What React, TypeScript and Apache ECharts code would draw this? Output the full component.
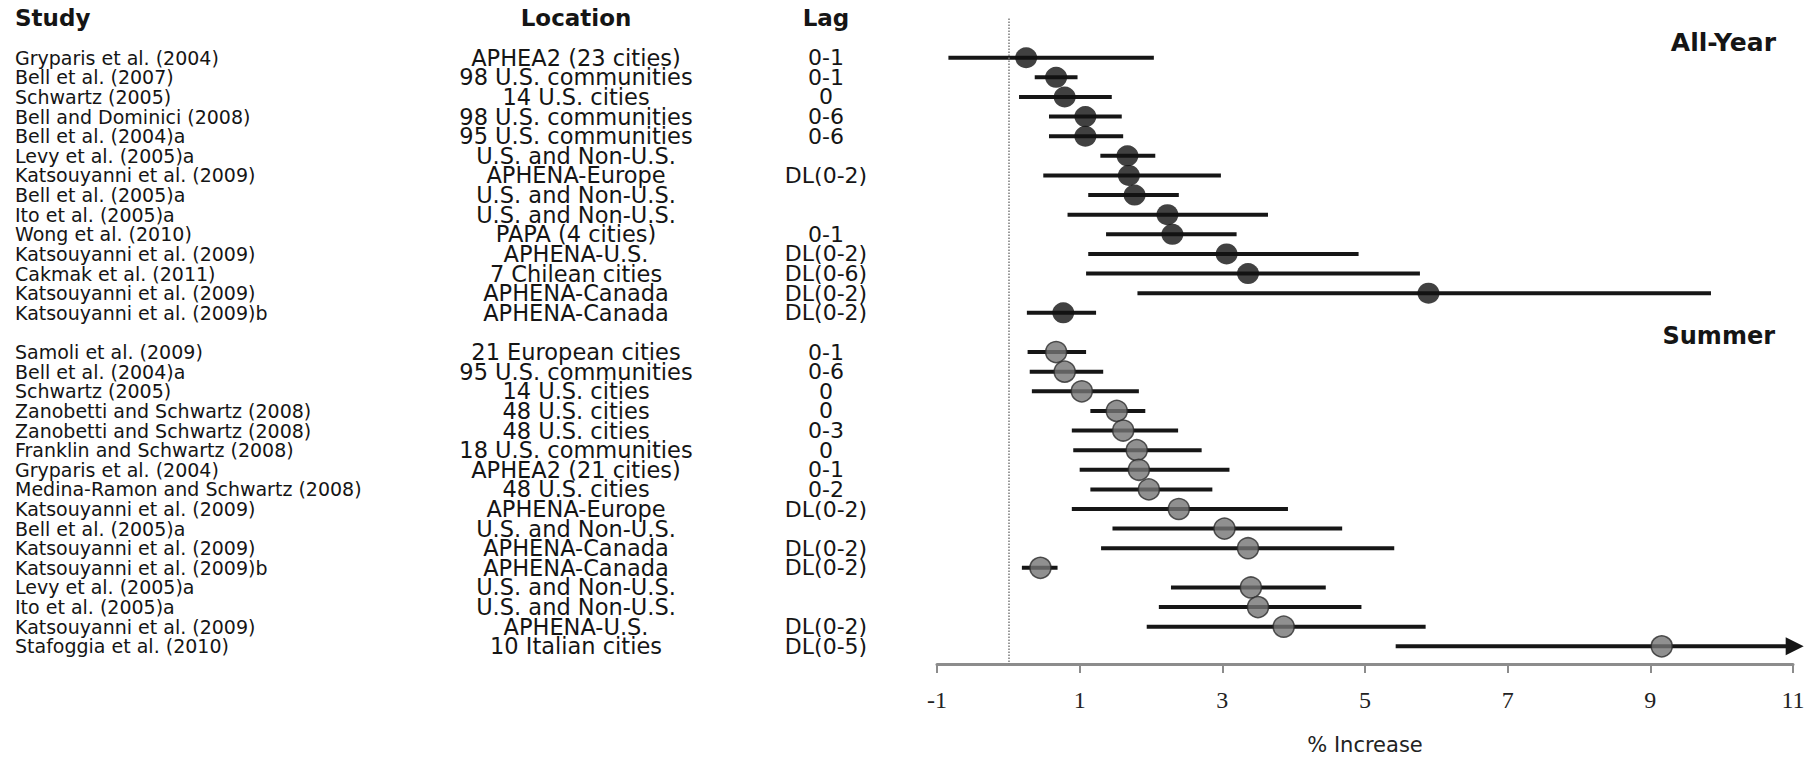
import React, { useEffect, useRef } from "react";
import * as echarts from "echarts";

// ---- All-Year studies ----
const allYearStudy = [
  "Gryparis et al. (2004)",
  "Bell et al. (2007)",
  "Schwartz (2005)",
  "Bell and Dominici (2008)",
  "Bell et al. (2004)a",
  "Levy et al. (2005)a",
  "Katsouyanni et al. (2009)",
  "Bell et al. (2005)a",
  "Ito et al. (2005)a",
  "Wong et al. (2010)",
  "Katsouyanni et al. (2009)",
  "Cakmak et al. (2011)",
  "Katsouyanni et al. (2009)",
  "Katsouyanni et al. (2009)b",
];
const allYearLocation = [
  "APHEA2 (23 cities)",
  "98 U.S. communities",
  "14 U.S. cities",
  "98 U.S. communities",
  "95 U.S. communities",
  "U.S. and Non-U.S.",
  "APHENA-Europe",
  "U.S. and Non-U.S.",
  "U.S. and Non-U.S.",
  "PAPA (4 cities)",
  "APHENA-U.S.",
  "7 Chilean cities",
  "APHENA-Canada",
  "APHENA-Canada",
];
const allYearLag = ["0-1", "0-1", "0", "0-6", "0-6", "", "DL(0-2)", "", "", "0-1", "DL(0-2)", "DL(0-6)", "DL(0-2)", "DL(0-2)"];
const allYearEst = [0.25, 0.67, 0.79, 1.08, 1.08, 1.67, 1.69, 1.77, 2.23, 2.3, 3.06, 3.36, 5.89, 0.77];
const allYearLow = [-0.84, 0.37, 0.15, 0.57, 0.57, 1.29, 0.49, 1.12, 0.83, 1.37, 1.12, 1.09, 1.81, 0.26];
const allYearHigh = [2.04, 0.97, 1.45, 1.59, 1.61, 2.06, 2.98, 2.39, 3.64, 3.2, 4.91, 5.77, 9.85, 1.23];

// ---- Summer studies ----
const summerStudy = [
  "Samoli et al. (2009)",
  "Bell et al. (2004)a",
  "Schwartz (2005)",
  "Zanobetti and Schwartz (2008)",
  "Zanobetti and Schwartz (2008)",
  "Franklin and Schwartz (2008)",
  "Gryparis et al. (2004)",
  "Medina-Ramon and Schwartz (2008)",
  "Katsouyanni et al. (2009)",
  "Bell et al. (2005)a",
  "Katsouyanni et al. (2009)",
  "Katsouyanni et al. (2009)b",
  "Levy et al. (2005)a",
  "Ito et al. (2005)a",
  "Katsouyanni et al. (2009)",
  "Stafoggia et al. (2010)",
];
const summerLocation = [
  "21 European cities",
  "95 U.S. communities",
  "14 U.S. cities",
  "48 U.S. cities",
  "48 U.S. cities",
  "18 U.S. communities",
  "APHEA2 (21 cities)",
  "48 U.S. cities",
  "APHENA-Europe",
  "U.S. and Non-U.S.",
  "APHENA-Canada",
  "APHENA-Canada",
  "U.S. and Non-U.S.",
  "U.S. and Non-U.S.",
  "APHENA-U.S.",
  "10 Italian cities",
];
const summerLag = ["0-1", "0-6", "0", "0", "0-3", "0", "0-1", "0-2", "DL(0-2)", "", "DL(0-2)", "DL(0-2)", "", "", "DL(0-2)", "DL(0-5)"];
const summerEst = [0.67, 0.79, 1.03, 1.52, 1.61, 1.8, 1.83, 1.97, 2.39, 3.03, 3.36, 0.45, 3.4, 3.5, 3.86, 9.16];
const summerLow = [0.27, 0.3, 0.33, 1.15, 0.89, 0.91, 1.0, 1.15, 0.89, 1.46, 1.3, 0.19, 2.28, 2.11, 1.94, 5.43];
// last value: interval truncated by the axis (drawn as an arrow)
const summerHigh = [1.09, 1.33, 1.83, 1.92, 2.38, 2.71, 3.1, 2.86, 3.92, 4.68, 5.41, 0.69, 4.45, 4.95, 5.85, 11.15];

const xTickValues = [-1, 1, 3, 5, 7, 9, 11];
const X_MIN = -1;
const X_MAX = 11;
const headers = { study: "Study", location: "Location", lag: "Lag" };
const panelTitles = ["All-Year", "Summer"];
const xAxisTitle = "% Increase";

export default function App() {
  const ref = useRef<HTMLDivElement>(null);

  useEffect(() => {
    if (!ref.current) return;
    const chart = echarts.init(ref.current, undefined, { renderer: "svg" });

    const nA = allYearStudy.length;
    const rowsA = allYearStudy.map((_, i) => i);
    const rowsS = summerStudy.map((_, i) => nA + 1 + i);
    const allRows = [...rowsA, ...rowsS];
    const studyMap: Record<number, string> = {};
    const locMap: Record<number, string> = {};
    const lagMap: Record<number, string> = {};
    rowsA.forEach((r, i) => {
      studyMap[r] = allYearStudy[i];
      locMap[r] = allYearLocation[i];
      lagMap[r] = allYearLag[i];
    });
    rowsS.forEach((r, i) => {
      studyMap[r] = summerStudy[i];
      locMap[r] = summerLocation[i];
      lagMap[r] = summerLag[i];
    });
    // split rows in two alternating sets so neighbouring labels never sit on the same axis
    const rowSets = [allRows.filter((_, k) => k % 2 === 0), allRows.filter((_, k) => k % 2 === 1)];

    const gridLeft = 937;
    const gridRight = 23;
    const textFont = "DejaVu Sans";
    const textColor = "#151515";
    const studyLeft = 15;
    const locCenter = 576;
    const lagCenter = 826;

    const yBase = {
      type: "value" as const,
      min: -2,
      max: 30.9,
      inverse: true,
      gridIndex: 0,
      position: "left" as const,
      offset: 0,
      axisLine: { show: false, onZero: false },
      axisTick: { show: false },
      splitLine: { show: false },
    };

    const columns = [
      { map: studyMap, align: "left", margin: gridLeft - studyLeft, fontSize: 19 },
      { map: locMap, align: "center", margin: gridLeft - locCenter, fontSize: 22.5 },
      { map: lagMap, align: "center", margin: gridLeft - lagCenter, fontSize: 22 },
    ];
    const yAxes: any[] = [{ ...yBase, axisLabel: { show: false } }];
    columns.forEach((c) => {
      rowSets.forEach((set) => {
        yAxes.push({
          ...yBase,
          axisLabel: {
            customValues: set,
            showMinLabel: true,
            showMaxLabel: true,
            hideOverlap: false,
            fontFamily: textFont,
            fontSize: c.fontSize,
            color: textColor,
            lineHeight: 19,
            align: c.align,
            margin: c.margin,
            formatter: (v: number) => c.map[v] ?? "",
          },
        });
      });
    });

    const ciData = [
      ...rowsA.map((r, i) => [r, allYearLow[i], allYearHigh[i]]),
      ...rowsS.map((r, i) => [r, summerLow[i], summerHigh[i]]),
    ];

    const headStyle = { fontFamily: textFont, fontSize: 23, fontWeight: "bold", fill: "#151515", verticalAlign: "middle" };

    const option: any = {
      animation: false,
      backgroundColor: "#ffffff",
      grid: { left: gridLeft, right: gridRight, top: 18.5, bottom: 91, containLabel: false },
      xAxis: {
        type: "value",
        min: X_MIN,
        max: X_MAX,
        axisLine: { show: true, onZero: false, lineStyle: { color: "#8c8c8c", width: 3 } },
        axisTick: { show: true, customValues: xTickValues, length: 9, lineStyle: { color: "#8c8c8c", width: 2 } },
        axisLabel: {
          customValues: xTickValues,
          fontFamily: "Liberation Serif",
          fontSize: 24,
          color: "#222",
          verticalAlign: "middle",
          margin: 36,
        },
        splitLine: { show: false },
        name: xAxisTitle,
        nameLocation: "middle",
        nameGap: 70,
        nameTextStyle: { fontFamily: textFont, fontSize: 21, color: "#222" },
      },
      yAxis: yAxes,
      graphic: [
        { type: "text", x: studyLeft, y: 18, style: { ...headStyle, text: headers.study, align: "left" } },
        { type: "text", x: locCenter, y: 18, style: { ...headStyle, text: headers.location, align: "center" } },
        { type: "text", x: lagCenter, y: 18, style: { ...headStyle, text: headers.lag, align: "center" } },
        { type: "text", x: 1776, y: 42, style: { ...headStyle, fontSize: 25, text: panelTitles[0], align: "right" } },
        { type: "text", x: 1775, y: 336, style: { ...headStyle, fontSize: 24, text: panelTitles[1], align: "right" } },
      ],
      series: [
        {
          type: "custom",
          name: "CI",
          yAxisIndex: 0,
          data: ciData,
          encode: { x: [1, 2], y: 0 },
          clip: false,
          z: 2,
          renderItem: (_params: any, api: any) => {
            const r = api.value(0);
            const lo = api.value(1);
            const hi = api.value(2);
            const p1 = api.coord([lo, r]);
            const p2 = api.coord([hi, r]);
            const stroke = "#161616";
            if (hi > X_MAX) {
              const tip = p2[0];
              const base = tip - 18;
              return {
                type: "group",
                children: [
                  { type: "line", shape: { x1: p1[0], y1: p1[1], x2: base + 2, y2: p1[1] }, style: { stroke, lineWidth: 4 } },
                  {
                    type: "polygon",
                    shape: { points: [[base, p1[1] - 9], [tip, p1[1]], [base, p1[1] + 9]] },
                    style: { fill: stroke },
                  },
                ],
              };
            }
            return {
              type: "line",
              shape: { x1: p1[0], y1: p1[1], x2: p2[0], y2: p2[1] },
              style: { stroke, lineWidth: 4 },
            };
          },
          markLine: {
            silent: true,
            symbol: "none",
            label: { show: false },
            lineStyle: { type: "dotted", color: "#7a7a7a", width: 1.5 },
            data: [{ xAxis: 0 }],
          },
        },
        {
          type: "scatter",
          name: "All-Year",
          yAxisIndex: 0,
          data: rowsA.map((r, i) => [allYearEst[i], r]),
          symbol: "circle",
          symbolSize: [22, 21],
          itemStyle: { color: "#111111" },
          z: 3,
        },
        {
          type: "scatter",
          name: "Summer",
          yAxisIndex: 0,
          data: rowsS.map((r, i) => [summerEst[i], r]),
          symbol: "circle",
          symbolSize: [21, 21],
          itemStyle: { color: "#747474", borderColor: "#2a2a2a", borderWidth: 1.5 },
          z: 3,
        },
      ],
    };

    chart.setOption(option);
    return () => chart.dispose();
  }, []);

  return (
    <div
      ref={ref}
      style={{ position: "fixed", left: 0, top: 0, width: 1816, height: 760, background: "#fff" }}
    />
  );
}
